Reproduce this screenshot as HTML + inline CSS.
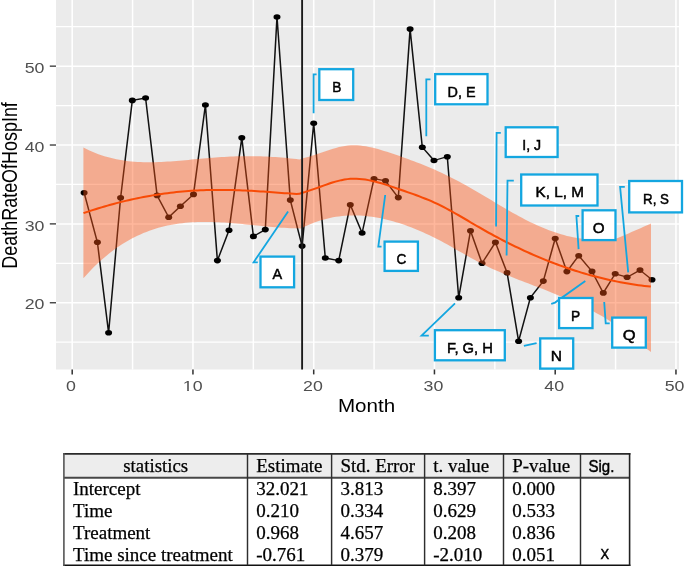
<!DOCTYPE html><html><head><meta charset="utf-8"><style>html,body{margin:0;padding:0;background:#fff;}svg{display:block;will-change:transform;}</style></head><body>
<svg width="685" height="566" viewBox="0 0 685 566">
<g transform="scale(1.17,1)">
<rect x="47.86" y="-1.0" width="532.48" height="370.5" fill="#EBEBEB"/>
<line x1="113.31" y1="-1.0" x2="113.31" y2="369.5" stroke="#fff" stroke-width="1.25"/>
<line x1="216.52" y1="-1.0" x2="216.52" y2="369.5" stroke="#fff" stroke-width="1.25"/>
<line x1="319.72" y1="-1.0" x2="319.72" y2="369.5" stroke="#fff" stroke-width="1.25"/>
<line x1="422.93" y1="-1.0" x2="422.93" y2="369.5" stroke="#fff" stroke-width="1.25"/>
<line x1="526.13" y1="-1.0" x2="526.13" y2="369.5" stroke="#fff" stroke-width="1.25"/>
<line x1="47.86" y1="342.19" x2="580.34" y2="342.19" stroke="#fff" stroke-width="1.3"/>
<line x1="47.86" y1="263.33" x2="580.34" y2="263.33" stroke="#fff" stroke-width="1.3"/>
<line x1="47.86" y1="184.46" x2="580.34" y2="184.46" stroke="#fff" stroke-width="1.3"/>
<line x1="47.86" y1="105.59" x2="580.34" y2="105.59" stroke="#fff" stroke-width="1.3"/>
<line x1="47.86" y1="26.72" x2="580.34" y2="26.72" stroke="#fff" stroke-width="1.3"/>
<line x1="61.71" y1="-1.0" x2="61.71" y2="369.5" stroke="#fff" stroke-width="1.35"/>
<line x1="164.91" y1="-1.0" x2="164.91" y2="369.5" stroke="#fff" stroke-width="1.35"/>
<line x1="268.12" y1="-1.0" x2="268.12" y2="369.5" stroke="#fff" stroke-width="1.35"/>
<line x1="371.32" y1="-1.0" x2="371.32" y2="369.5" stroke="#fff" stroke-width="1.35"/>
<line x1="474.53" y1="-1.0" x2="474.53" y2="369.5" stroke="#fff" stroke-width="1.35"/>
<line x1="577.74" y1="-1.0" x2="577.74" y2="369.5" stroke="#fff" stroke-width="1.35"/>
<line x1="47.86" y1="302.76" x2="580.34" y2="302.76" stroke="#fff" stroke-width="1.5"/>
<line x1="47.86" y1="223.89" x2="580.34" y2="223.89" stroke="#fff" stroke-width="1.5"/>
<line x1="47.86" y1="145.02" x2="580.34" y2="145.02" stroke="#fff" stroke-width="1.5"/>
<line x1="47.86" y1="66.15" x2="580.34" y2="66.15" stroke="#fff" stroke-width="1.5"/>
<polyline points="71.88,192.70 83.25,242.30 92.82,332.80 103.08,197.70 113.08,100.40 124.44,98.00 134.27,195.40 144.19,217.20 154.19,206.30 165.38,194.40 175.56,105.00 185.81,260.60 195.73,230.30 206.67,137.80 216.58,236.40 226.75,229.60 236.75,17.00 248.12,200.10 258.21,246.10 268.12,123.20 278.03,258.00 289.49,260.60 299.40,204.70 309.49,233.00 319.66,178.70 329.49,180.80 340.43,197.60 350.51,29.10 360.94,147.20 370.94,160.50 382.31,156.70 392.05,297.70 402.14,230.80 411.97,263.30 423.42,242.40 433.42,272.80 443.25,341.20 453.33,297.70 464.36,281.10 474.53,238.50 484.53,271.60 494.62,255.70 505.98,271.40 515.64,292.90 525.81,273.80 535.98,277.20 547.01,270.10 557.26,279.70" fill="none" stroke="#111" stroke-width="1.3" stroke-linejoin="round"/>
<ellipse cx="71.88" cy="192.70" rx="2.99" ry="2.8" fill="#000"/>
<ellipse cx="83.25" cy="242.30" rx="2.99" ry="2.8" fill="#000"/>
<ellipse cx="92.82" cy="332.80" rx="2.99" ry="2.8" fill="#000"/>
<ellipse cx="103.08" cy="197.70" rx="2.99" ry="2.8" fill="#000"/>
<ellipse cx="113.08" cy="100.40" rx="2.99" ry="2.8" fill="#000"/>
<ellipse cx="124.44" cy="98.00" rx="2.99" ry="2.8" fill="#000"/>
<ellipse cx="134.27" cy="195.40" rx="2.99" ry="2.8" fill="#000"/>
<ellipse cx="144.19" cy="217.20" rx="2.99" ry="2.8" fill="#000"/>
<ellipse cx="154.19" cy="206.30" rx="2.99" ry="2.8" fill="#000"/>
<ellipse cx="165.38" cy="194.40" rx="2.99" ry="2.8" fill="#000"/>
<ellipse cx="175.56" cy="105.00" rx="2.99" ry="2.8" fill="#000"/>
<ellipse cx="185.81" cy="260.60" rx="2.99" ry="2.8" fill="#000"/>
<ellipse cx="195.73" cy="230.30" rx="2.99" ry="2.8" fill="#000"/>
<ellipse cx="206.67" cy="137.80" rx="2.99" ry="2.8" fill="#000"/>
<ellipse cx="216.58" cy="236.40" rx="2.99" ry="2.8" fill="#000"/>
<ellipse cx="226.75" cy="229.60" rx="2.99" ry="2.8" fill="#000"/>
<ellipse cx="236.75" cy="17.00" rx="2.99" ry="2.8" fill="#000"/>
<ellipse cx="248.12" cy="200.10" rx="2.99" ry="2.8" fill="#000"/>
<ellipse cx="258.21" cy="246.10" rx="2.99" ry="2.8" fill="#000"/>
<ellipse cx="268.12" cy="123.20" rx="2.99" ry="2.8" fill="#000"/>
<ellipse cx="278.03" cy="258.00" rx="2.99" ry="2.8" fill="#000"/>
<ellipse cx="289.49" cy="260.60" rx="2.99" ry="2.8" fill="#000"/>
<ellipse cx="299.40" cy="204.70" rx="2.99" ry="2.8" fill="#000"/>
<ellipse cx="309.49" cy="233.00" rx="2.99" ry="2.8" fill="#000"/>
<ellipse cx="319.66" cy="178.70" rx="2.99" ry="2.8" fill="#000"/>
<ellipse cx="329.49" cy="180.80" rx="2.99" ry="2.8" fill="#000"/>
<ellipse cx="340.43" cy="197.60" rx="2.99" ry="2.8" fill="#000"/>
<ellipse cx="350.51" cy="29.10" rx="2.99" ry="2.8" fill="#000"/>
<ellipse cx="360.94" cy="147.20" rx="2.99" ry="2.8" fill="#000"/>
<ellipse cx="370.94" cy="160.50" rx="2.99" ry="2.8" fill="#000"/>
<ellipse cx="382.31" cy="156.70" rx="2.99" ry="2.8" fill="#000"/>
<ellipse cx="392.05" cy="297.70" rx="2.99" ry="2.8" fill="#000"/>
<ellipse cx="402.14" cy="230.80" rx="2.99" ry="2.8" fill="#000"/>
<ellipse cx="411.97" cy="263.30" rx="2.99" ry="2.8" fill="#000"/>
<ellipse cx="423.42" cy="242.40" rx="2.99" ry="2.8" fill="#000"/>
<ellipse cx="433.42" cy="272.80" rx="2.99" ry="2.8" fill="#000"/>
<ellipse cx="443.25" cy="341.20" rx="2.99" ry="2.8" fill="#000"/>
<ellipse cx="453.33" cy="297.70" rx="2.99" ry="2.8" fill="#000"/>
<ellipse cx="464.36" cy="281.10" rx="2.99" ry="2.8" fill="#000"/>
<ellipse cx="474.53" cy="238.50" rx="2.99" ry="2.8" fill="#000"/>
<ellipse cx="484.53" cy="271.60" rx="2.99" ry="2.8" fill="#000"/>
<ellipse cx="494.62" cy="255.70" rx="2.99" ry="2.8" fill="#000"/>
<ellipse cx="505.98" cy="271.40" rx="2.99" ry="2.8" fill="#000"/>
<ellipse cx="515.64" cy="292.90" rx="2.99" ry="2.8" fill="#000"/>
<ellipse cx="525.81" cy="273.80" rx="2.99" ry="2.8" fill="#000"/>
<ellipse cx="535.98" cy="277.20" rx="2.99" ry="2.8" fill="#000"/>
<ellipse cx="547.01" cy="270.10" rx="2.99" ry="2.8" fill="#000"/>
<ellipse cx="557.26" cy="279.70" rx="2.99" ry="2.8" fill="#000"/>
<path d="M71.28,147.45 L73.85,148.99 L76.41,150.43 L78.97,151.76 L81.54,153.00 L84.10,154.15 L86.67,155.21 L89.23,156.18 L91.79,157.07 L94.36,157.87 L96.92,158.60 L99.49,159.25 L102.05,159.83 L104.62,160.34 L107.18,160.78 L109.74,161.16 L112.31,161.47 L114.87,161.73 L117.44,161.94 L120.00,162.09 L122.56,162.19 L125.13,162.25 L127.69,162.27 L130.26,162.24 L132.82,162.18 L135.38,162.08 L137.95,161.96 L140.51,161.80 L143.08,161.62 L145.64,161.42 L148.21,161.19 L150.77,160.96 L153.33,160.70 L155.90,160.44 L158.46,160.17 L161.03,159.90 L163.59,159.62 L166.15,159.35 L168.72,159.07 L171.28,158.80 L173.85,158.53 L176.41,158.27 L178.97,158.02 L181.54,157.78 L184.10,157.55 L186.67,157.33 L189.23,157.12 L191.79,156.93 L194.36,156.75 L196.92,156.60 L199.49,156.46 L202.05,156.35 L204.62,156.26 L207.18,156.19 L209.74,156.15 L212.31,156.14 L214.87,156.15 L217.44,156.18 L220.00,156.24 L222.56,156.32 L225.13,156.42 L227.69,156.55 L230.26,156.70 L232.82,156.88 L235.38,157.08 L237.95,157.30 L240.51,157.55 L243.08,157.81 L245.64,158.10 L248.21,158.41 L250.77,158.75 L253.33,159.10 L255.90,159.48 L256.41,159.27 L258.97,158.33 L261.54,157.57 L264.10,156.72 L266.67,155.80 L269.23,154.81 L271.79,153.79 L274.36,152.75 L276.92,151.71 L279.49,150.68 L282.05,149.69 L284.62,148.76 L287.18,147.89 L289.74,147.12 L292.31,146.46 L294.87,145.93 L297.44,145.54 L300.00,145.32 L302.56,145.25 L305.13,145.33 L307.69,145.55 L310.26,145.89 L312.82,146.35 L315.38,146.91 L317.95,147.56 L320.51,148.30 L323.08,149.10 L325.64,149.97 L328.21,150.88 L330.77,151.84 L333.33,152.82 L335.90,153.82 L338.46,154.83 L341.03,155.86 L343.59,156.91 L346.15,157.97 L348.72,159.06 L351.28,160.16 L353.85,161.29 L356.41,162.44 L358.97,163.61 L361.54,164.80 L364.10,166.03 L366.67,167.28 L369.23,168.56 L371.79,169.86 L374.36,171.20 L376.92,172.57 L379.49,173.97 L382.05,175.41 L384.62,176.88 L387.18,178.39 L389.74,179.93 L392.31,181.51 L394.87,183.13 L397.44,184.78 L400.00,186.46 L402.56,188.17 L405.13,189.91 L407.69,191.66 L410.26,193.43 L412.82,195.21 L415.38,197.00 L417.95,198.79 L420.51,200.59 L423.08,202.38 L425.64,204.17 L428.21,205.95 L430.77,207.71 L433.33,209.46 L435.90,211.19 L438.46,212.90 L441.03,214.58 L443.59,216.23 L446.15,217.84 L448.72,219.41 L451.28,220.95 L453.85,222.43 L456.41,223.87 L458.97,225.26 L461.54,226.59 L464.10,227.86 L466.67,229.08 L469.23,230.24 L471.79,231.33 L474.36,232.37 L476.92,233.34 L479.49,234.25 L482.05,235.10 L484.62,235.88 L487.18,236.59 L489.74,237.23 L492.31,237.81 L494.87,238.32 L497.44,238.75 L500.00,239.11 L502.56,239.40 L505.13,239.62 L507.69,239.76 L510.26,239.82 L512.82,239.81 L515.38,239.71 L517.95,239.54 L520.51,239.28 L523.08,238.95 L525.64,238.53 L526.92,238.46 L529.49,237.33 L532.05,236.02 L534.62,234.70 L537.18,233.39 L539.74,232.08 L542.31,230.77 L544.87,229.46 L547.44,228.15 L550.00,226.84 L552.56,225.53 L555.13,224.22 L556.41,223.56 L556.41,351.96 L553.85,349.86 L551.28,347.67 L548.72,345.42 L546.15,343.12 L543.59,340.78 L541.03,338.42 L538.46,336.05 L535.90,333.69 L533.33,331.35 L530.77,329.04 L528.21,326.77 L525.64,324.57 L523.08,322.45 L520.51,320.42 L517.95,318.49 L515.38,316.68 L512.82,314.98 L510.26,313.38 L507.69,311.84 L505.13,310.32 L502.56,308.83 L500.00,307.36 L497.44,305.91 L494.87,304.48 L492.31,303.07 L489.74,301.69 L487.18,300.33 L484.62,299.00 L482.05,297.68 L479.49,296.39 L476.92,295.13 L474.36,293.88 L471.79,292.66 L469.23,291.46 L466.67,290.28 L464.10,289.11 L461.54,287.95 L458.97,286.80 L456.41,285.66 L453.85,284.52 L451.28,283.37 L448.72,282.23 L446.15,281.08 L443.59,279.92 L441.03,278.75 L438.46,277.56 L435.90,276.36 L433.33,275.14 L430.77,273.89 L428.21,272.62 L425.64,271.32 L423.08,269.99 L420.51,268.63 L417.95,267.23 L415.38,265.79 L412.82,264.30 L410.26,262.78 L407.69,261.20 L405.13,259.59 L402.56,257.94 L400.00,256.26 L397.44,254.56 L394.87,252.85 L392.31,251.14 L389.74,249.42 L387.18,247.71 L384.62,246.02 L382.05,244.34 L379.49,242.70 L376.92,241.09 L374.36,239.51 L371.79,237.98 L369.23,236.49 L366.67,235.04 L364.10,233.64 L361.54,232.28 L358.97,230.96 L356.41,229.69 L353.85,228.46 L351.28,227.29 L348.72,226.16 L346.15,225.08 L343.59,224.05 L341.03,223.08 L338.46,222.15 L335.90,221.28 L333.33,220.47 L330.77,219.70 L328.21,219.00 L325.64,218.36 L323.08,217.77 L320.51,217.25 L317.95,216.79 L315.38,216.39 L312.82,216.07 L310.26,215.81 L307.69,215.62 L305.13,215.50 L302.56,215.46 L300.00,215.49 L297.44,215.60 L294.87,215.78 L292.31,216.05 L289.74,216.39 L287.18,216.82 L284.62,217.34 L282.05,217.94 L279.49,218.63 L276.92,219.41 L274.36,220.28 L271.79,221.24 L269.23,222.30 L266.67,223.45 L264.10,224.70 L261.54,226.05 L258.97,227.50 L256.41,228.71 L255.90,228.36 L253.33,228.32 L250.77,228.24 L248.21,228.14 L245.64,228.00 L243.08,227.84 L240.51,227.65 L237.95,227.45 L235.38,227.22 L232.82,226.98 L230.26,226.72 L227.69,226.44 L225.13,226.16 L222.56,225.87 L220.00,225.58 L217.44,225.28 L214.87,224.98 L212.31,224.68 L209.74,224.38 L207.18,224.09 L204.62,223.81 L202.05,223.54 L199.49,223.29 L196.92,223.04 L194.36,222.82 L191.79,222.62 L189.23,222.43 L186.67,222.28 L184.10,222.15 L181.54,222.04 L178.97,221.97 L176.41,221.94 L173.85,221.94 L171.28,221.98 L168.72,222.06 L166.15,222.18 L163.59,222.35 L161.03,222.56 L158.46,222.83 L155.90,223.15 L153.33,223.52 L150.77,223.95 L148.21,224.44 L145.64,224.99 L143.08,225.60 L140.51,226.29 L137.95,227.04 L135.38,227.86 L132.82,228.75 L130.26,229.72 L127.69,230.77 L125.13,231.90 L122.56,233.11 L120.00,234.41 L117.44,235.79 L114.87,237.26 L112.31,238.83 L109.74,240.49 L107.18,242.24 L104.62,244.10 L102.05,246.05 L99.49,248.11 L96.92,250.28 L94.36,252.55 L91.79,254.93 L89.23,257.43 L86.67,260.04 L84.10,262.77 L81.54,265.62 L78.97,268.59 L76.41,271.68 L73.85,274.91 L71.28,278.26 Z" fill="#FF5313" fill-opacity="0.42"/>
<path d="M71.37,213.18 L73.93,212.15 L76.50,211.15 L79.06,210.17 L81.62,209.21 L84.19,208.28 L86.75,207.37 L89.32,206.48 L91.88,205.61 L94.44,204.77 L97.01,203.95 L99.57,203.15 L102.14,202.38 L104.70,201.63 L107.26,200.90 L109.83,200.19 L112.39,199.51 L114.96,198.85 L117.52,198.22 L120.09,197.61 L122.65,197.02 L125.21,196.45 L127.78,195.91 L130.34,195.39 L132.91,194.90 L135.47,194.43 L138.03,193.98 L140.60,193.55 L143.16,193.15 L145.73,192.77 L148.29,192.42 L150.85,192.09 L153.42,191.78 L155.98,191.50 L158.55,191.24 L161.11,191.01 L163.68,190.80 L166.24,190.61 L168.80,190.44 L171.37,190.30 L173.93,190.18 L176.50,190.08 L179.06,190.00 L181.62,189.95 L184.19,189.91 L186.75,189.89 L189.32,189.89 L191.88,189.91 L194.44,189.95 L197.01,190.00 L199.57,190.08 L202.14,190.17 L204.70,190.27 L207.26,190.39 L209.83,190.53 L212.39,190.68 L214.96,190.84 L217.52,191.01 L220.09,191.20 L222.65,191.39 L225.21,191.59 L227.78,191.80 L230.34,192.02 L232.91,192.24 L235.47,192.46 L238.03,192.69 L240.60,192.92 L243.16,193.14 L245.73,193.37 L248.29,193.60 L250.85,193.83 L253.42,194.05 L255.90,193.86 L258.46,192.71 L261.03,191.86 L263.59,190.93 L266.15,189.93 L268.72,188.88 L271.28,187.80 L273.85,186.71 L276.41,185.62 L278.97,184.56 L281.54,183.53 L284.10,182.56 L286.67,181.66 L289.23,180.85 L291.79,180.15 L294.36,179.57 L296.92,179.13 L299.49,178.85 L302.05,178.73 L304.62,178.75 L307.18,178.91 L309.74,179.19 L312.31,179.60 L314.87,180.11 L317.44,180.72 L320.00,181.41 L322.56,182.18 L325.13,183.03 L327.69,183.93 L330.26,184.87 L332.82,185.86 L335.38,186.88 L337.95,187.91 L340.51,188.95 L343.08,190.00 L345.64,191.04 L348.21,192.08 L350.77,193.13 L353.33,194.19 L355.90,195.28 L358.46,196.39 L361.03,197.54 L363.59,198.72 L366.15,199.95 L368.72,201.22 L371.28,202.56 L373.85,203.95 L376.41,205.41 L378.97,206.93 L381.54,208.50 L384.10,210.12 L386.67,211.77 L389.23,213.46 L391.79,215.18 L394.36,216.92 L396.92,218.67 L399.49,220.43 L402.05,222.20 L404.62,223.96 L407.18,225.72 L409.74,227.45 L412.31,229.17 L414.87,230.87 L417.44,232.54 L420.00,234.19 L422.56,235.81 L425.13,237.42 L427.69,238.99 L430.26,240.55 L432.82,242.08 L435.38,243.59 L437.95,245.08 L440.51,246.54 L443.08,247.98 L445.64,249.40 L448.21,250.79 L450.77,252.15 L453.33,253.50 L455.90,254.82 L458.46,256.11 L461.03,257.38 L463.59,258.63 L466.15,259.85 L468.72,261.05 L471.28,262.22 L473.85,263.37 L476.41,264.49 L478.97,265.59 L481.54,266.66 L484.10,267.71 L486.67,268.73 L489.23,269.73 L491.79,270.70 L494.36,271.65 L496.92,272.57 L499.49,273.47 L502.05,274.34 L504.62,275.19 L507.18,276.01 L509.74,276.80 L512.31,277.57 L514.87,278.31 L517.44,279.02 L520.00,279.71 L522.56,280.37 L525.13,281.01 L527.69,281.62 L530.26,282.20 L532.82,282.76 L535.38,283.29 L537.95,283.79 L540.51,284.27 L543.08,284.72 L545.64,285.14 L548.21,285.54 L550.77,285.90 L553.33,286.24 L555.90,286.56 L556.24,286.60" fill="none" stroke="#F84B06" stroke-width="2.0" stroke-linejoin="round"/>
<line x1="258.21" y1="-1.0" x2="258.21" y2="369.5" stroke="#1A1A1A" stroke-width="1.6"/>
<line x1="42.56" y1="302.76" x2="47.86" y2="302.76" stroke="#333" stroke-width="1.3"/>
<line x1="42.56" y1="223.89" x2="47.86" y2="223.89" stroke="#333" stroke-width="1.3"/>
<line x1="42.56" y1="145.02" x2="47.86" y2="145.02" stroke="#333" stroke-width="1.3"/>
<line x1="42.56" y1="66.15" x2="47.86" y2="66.15" stroke="#333" stroke-width="1.3"/>
<line x1="61.71" y1="369.5" x2="61.71" y2="374.40" stroke="#333" stroke-width="1.3"/>
<line x1="164.91" y1="369.5" x2="164.91" y2="374.40" stroke="#333" stroke-width="1.3"/>
<line x1="268.12" y1="369.5" x2="268.12" y2="374.40" stroke="#333" stroke-width="1.3"/>
<line x1="371.32" y1="369.5" x2="371.32" y2="374.40" stroke="#333" stroke-width="1.3"/>
<line x1="474.53" y1="369.5" x2="474.53" y2="374.40" stroke="#333" stroke-width="1.3"/>
<line x1="577.74" y1="369.5" x2="577.74" y2="374.40" stroke="#333" stroke-width="1.3"/>
<text x="37.95" y="309.46" font-family="Liberation Sans" font-size="15.2" fill="#505050" text-anchor="end">20</text>
<text x="37.95" y="230.59" font-family="Liberation Sans" font-size="15.2" fill="#505050" text-anchor="end">30</text>
<text x="37.95" y="151.72" font-family="Liberation Sans" font-size="15.2" fill="#505050" text-anchor="end">40</text>
<text x="37.95" y="72.85" font-family="Liberation Sans" font-size="15.2" fill="#505050" text-anchor="end">50</text>
<text x="60.60" y="391.4" font-family="Liberation Sans" font-size="15.2" fill="#505050" text-anchor="middle">0</text>
<text x="164.66" y="391.4" font-family="Liberation Sans" font-size="15.2" fill="#505050" text-anchor="middle">10</text>
<text x="267.44" y="391.4" font-family="Liberation Sans" font-size="15.2" fill="#505050" text-anchor="middle">20</text>
<text x="370.47" y="391.4" font-family="Liberation Sans" font-size="15.2" fill="#505050" text-anchor="middle">30</text>
<text x="473.68" y="391.4" font-family="Liberation Sans" font-size="15.2" fill="#505050" text-anchor="middle">40</text>
<text x="576.54" y="391.4" font-family="Liberation Sans" font-size="15.2" fill="#505050" text-anchor="middle">50</text>
<rect x="156.81" y="389.80" width="3.16" height="2.40" fill="#fff"/>
<rect x="161.41" y="389.80" width="3.04" height="2.40" fill="#fff"/>
<text x="313.25" y="411.6" font-family="Liberation Sans" font-size="17.6" fill="#000" text-anchor="middle">Month</text>
</g>
<g transform="translate(17.3,185.4) scale(1.24,1) rotate(-90)"><text x="0" y="0" font-family="Liberation Sans" font-size="17.95" fill="#000" text-anchor="middle">DeathRateOfHospInf</text></g>
<polyline points="316.60,74.30 313.60,74.30 313.60,113.20" fill="none" stroke="#13A6E0" stroke-width="1.8" stroke-linejoin="miter"/>
<rect x="319.30" y="69.20" width="33.90" height="30.80" fill="#fff" stroke="#13A6E0" stroke-width="2.3"/><text x="332.22" y="91.80" font-family="Liberation Sans" font-size="15.2" fill="#000" stroke="#000" stroke-width="0.5" textLength="9.15" lengthAdjust="spacingAndGlyphs">B</text>
<polyline points="430.50,79.40 426.30,79.40 426.30,136.20" fill="none" stroke="#13A6E0" stroke-width="1.8" stroke-linejoin="miter"/>
<rect x="435.20" y="74.10" width="52.30" height="30.20" fill="#fff" stroke="#13A6E0" stroke-width="2.3"/><text x="447.57" y="96.70" font-family="Liberation Sans" font-size="15.2" fill="#000" stroke="#000" stroke-width="0.5" textLength="28.00" lengthAdjust="spacingAndGlyphs">D, E</text>
<polyline points="500.80,132.80 496.60,132.80 496.10,226.60" fill="none" stroke="#13A6E0" stroke-width="1.8" stroke-linejoin="miter"/>
<rect x="505.70" y="127.30" width="51.90" height="29.70" fill="#fff" stroke="#13A6E0" stroke-width="2.3"/><text x="522.35" y="149.90" font-family="Liberation Sans" font-size="15.2" fill="#000" stroke="#000" stroke-width="0.5" textLength="18.85" lengthAdjust="spacingAndGlyphs">I, J</text>
<polyline points="513.80,180.60 507.50,180.60 506.60,255.40" fill="none" stroke="#13A6E0" stroke-width="1.8" stroke-linejoin="miter"/>
<rect x="521.20" y="174.50" width="76.30" height="31.00" fill="#fff" stroke="#13A6E0" stroke-width="2.3"/><text x="535.60" y="197.10" font-family="Liberation Sans" font-size="15.2" fill="#000" stroke="#000" stroke-width="0.5" textLength="48.41" lengthAdjust="spacingAndGlyphs">K, L, M</text>
<polyline points="624.80,186.80 620.10,186.80 628.20,272.40" fill="none" stroke="#13A6E0" stroke-width="1.8" stroke-linejoin="miter"/>
<rect x="629.20" y="181.00" width="52.80" height="31.40" fill="#fff" stroke="#13A6E0" stroke-width="2.3"/><text x="643.06" y="203.60" font-family="Liberation Sans" font-size="15.2" fill="#000" stroke="#000" stroke-width="0.5" textLength="25.90" lengthAdjust="spacingAndGlyphs">R, S</text>
<polyline points="579.20,216.00 576.40,216.00 578.60,249.10" fill="none" stroke="#13A6E0" stroke-width="1.8" stroke-linejoin="miter"/>
<rect x="582.60" y="210.30" width="32.90" height="29.80" fill="#fff" stroke="#13A6E0" stroke-width="2.3"/><text x="592.73" y="232.90" font-family="Liberation Sans" font-size="15.2" fill="#000" stroke="#000" stroke-width="0.5" textLength="11.84" lengthAdjust="spacingAndGlyphs">O</text>
<polyline points="385.20,195.00 378.30,246.60 381.50,246.60" fill="none" stroke="#13A6E0" stroke-width="1.8" stroke-linejoin="miter"/>
<rect x="384.60" y="241.60" width="33.30" height="29.30" fill="#fff" stroke="#13A6E0" stroke-width="2.3"/><text x="396.56" y="264.20" font-family="Liberation Sans" font-size="15.2" fill="#000" stroke="#000" stroke-width="0.5" textLength="9.81" lengthAdjust="spacingAndGlyphs">C</text>
<polyline points="288.10,211.60 253.60,262.30 257.80,262.30" fill="none" stroke="#13A6E0" stroke-width="1.8" stroke-linejoin="miter"/>
<rect x="260.50" y="256.60" width="33.60" height="30.70" fill="#fff" stroke="#13A6E0" stroke-width="2.3"/><text x="272.52" y="279.20" font-family="Liberation Sans" font-size="15.2" fill="#000" stroke="#000" stroke-width="0.5" textLength="9.66" lengthAdjust="spacingAndGlyphs">A</text>
<polyline points="455.00,303.40 421.60,335.60 428.80,335.60" fill="none" stroke="#13A6E0" stroke-width="1.8" stroke-linejoin="miter"/>
<rect x="434.90" y="330.20" width="69.90" height="30.10" fill="#fff" stroke="#13A6E0" stroke-width="2.3"/><text x="447.04" y="352.80" font-family="Liberation Sans" font-size="15.2" fill="#000" stroke="#000" stroke-width="0.5" textLength="45.91" lengthAdjust="spacingAndGlyphs">F, G, H</text>
<polyline points="523.90,345.90 536.60,343.10" fill="none" stroke="#13A6E0" stroke-width="1.8" stroke-linejoin="miter"/>
<rect x="540.20" y="338.40" width="33.00" height="30.20" fill="#fff" stroke="#13A6E0" stroke-width="2.3"/><text x="550.87" y="361.00" font-family="Liberation Sans" font-size="15.2" fill="#000" stroke="#000" stroke-width="0.5" textLength="11.24" lengthAdjust="spacingAndGlyphs">N</text>
<polyline points="585.30,280.90 555.00,302.60 551.20,303.90" fill="none" stroke="#13A6E0" stroke-width="1.8" stroke-linejoin="miter"/>
<rect x="559.10" y="298.00" width="33.40" height="30.10" fill="#fff" stroke="#13A6E0" stroke-width="2.3"/><text x="571.12" y="320.60" font-family="Liberation Sans" font-size="15.2" fill="#000" stroke="#000" stroke-width="0.5" textLength="9.15" lengthAdjust="spacingAndGlyphs">P</text>
<polyline points="604.20,302.00 605.70,323.40 609.70,323.40" fill="none" stroke="#13A6E0" stroke-width="1.8" stroke-linejoin="miter"/>
<rect x="612.20" y="317.60" width="33.60" height="30.00" fill="#fff" stroke="#13A6E0" stroke-width="2.3"/><text x="622.67" y="340.20" font-family="Liberation Sans" font-size="15.2" fill="#000" stroke="#000" stroke-width="0.5" textLength="12.87" lengthAdjust="spacingAndGlyphs">Q</text>
<rect x="64.0" y="453.6" width="565.6" height="24.099999999999966" fill="#EDEDED"/>
<line x1="63.2" y1="453.9" x2="630.4" y2="453.9" stroke="#2A2A2A" stroke-width="1.9"/>
<line x1="64.0" y1="477.8" x2="629.6" y2="477.8" stroke="#474747" stroke-width="2"/>
<line x1="63.2" y1="565.4" x2="630.4" y2="565.4" stroke="#111" stroke-width="1.7"/>
<line x1="63.9" y1="453" x2="63.9" y2="566" stroke="#555" stroke-width="1.6"/>
<line x1="629.6" y1="453" x2="629.6" y2="566" stroke="#222" stroke-width="1.6"/>
<line x1="247.5" y1="453.6" x2="247.5" y2="565.3" stroke="#2E2E2E" stroke-width="1.45"/>
<line x1="331.6" y1="453.6" x2="331.6" y2="565.3" stroke="#2E2E2E" stroke-width="1.45"/>
<line x1="424.6" y1="453.6" x2="424.6" y2="565.3" stroke="#2E2E2E" stroke-width="1.45"/>
<line x1="503.5" y1="453.6" x2="503.5" y2="565.3" stroke="#2E2E2E" stroke-width="1.45"/>
<line x1="580.5" y1="453.6" x2="580.5" y2="565.3" stroke="#2E2E2E" stroke-width="1.45"/>
<text x="155.7" y="471.5" font-family="Liberation Serif" font-size="19" fill="#000" stroke="#000" stroke-width="0.25" text-anchor="middle" textLength="64.8" lengthAdjust="spacingAndGlyphs">statistics</text>
<text x="256.3" y="471.5" font-family="Liberation Serif" font-size="19" fill="#000" stroke="#000" stroke-width="0.25" text-anchor="start" textLength="66.2" lengthAdjust="spacingAndGlyphs">Estimate</text>
<text x="340.4" y="471.5" font-family="Liberation Serif" font-size="19" fill="#000" stroke="#000" stroke-width="0.25" text-anchor="start" textLength="74.7" lengthAdjust="spacingAndGlyphs">Std. Error</text>
<text x="433.3" y="471.5" font-family="Liberation Serif" font-size="19" fill="#000" stroke="#000" stroke-width="0.25" text-anchor="start">t. value</text>
<text x="512.3" y="471.5" font-family="Liberation Serif" font-size="19" fill="#000" stroke="#000" stroke-width="0.25" text-anchor="start" textLength="57.8" lengthAdjust="spacingAndGlyphs">P-value</text>
<text x="588.5" y="472.1" font-family="Liberation Sans" font-size="16.5" fill="#000" stroke="#000" stroke-width="0.45" textLength="25.9" lengthAdjust="spacingAndGlyphs">Sig.</text>
<text x="73.0" y="494.9" font-family="Liberation Serif" font-size="19" fill="#000" stroke="#000" stroke-width="0.25" text-anchor="start">Intercept</text>
<text x="256.3" y="494.9" font-family="Liberation Serif" font-size="19" fill="#000" stroke="#000" stroke-width="0.25" text-anchor="start">32.021</text>
<text x="340.4" y="494.9" font-family="Liberation Serif" font-size="19" fill="#000" stroke="#000" stroke-width="0.25" text-anchor="start">3.813</text>
<text x="433.3" y="494.9" font-family="Liberation Serif" font-size="19" fill="#000" stroke="#000" stroke-width="0.25" text-anchor="start">8.397</text>
<text x="512.3" y="494.9" font-family="Liberation Serif" font-size="19" fill="#000" stroke="#000" stroke-width="0.25" text-anchor="start">0.000</text>
<text x="73.0" y="516.7" font-family="Liberation Serif" font-size="19" fill="#000" stroke="#000" stroke-width="0.25" text-anchor="start">Time</text>
<text x="256.3" y="516.7" font-family="Liberation Serif" font-size="19" fill="#000" stroke="#000" stroke-width="0.25" text-anchor="start">0.210</text>
<text x="340.4" y="516.7" font-family="Liberation Serif" font-size="19" fill="#000" stroke="#000" stroke-width="0.25" text-anchor="start">0.334</text>
<text x="433.3" y="516.7" font-family="Liberation Serif" font-size="19" fill="#000" stroke="#000" stroke-width="0.25" text-anchor="start">0.629</text>
<text x="512.3" y="516.7" font-family="Liberation Serif" font-size="19" fill="#000" stroke="#000" stroke-width="0.25" text-anchor="start">0.533</text>
<text x="73.0" y="538.5" font-family="Liberation Serif" font-size="19" fill="#000" stroke="#000" stroke-width="0.25" text-anchor="start">Treatment</text>
<text x="256.3" y="538.5" font-family="Liberation Serif" font-size="19" fill="#000" stroke="#000" stroke-width="0.25" text-anchor="start">0.968</text>
<text x="340.4" y="538.5" font-family="Liberation Serif" font-size="19" fill="#000" stroke="#000" stroke-width="0.25" text-anchor="start">4.657</text>
<text x="433.3" y="538.5" font-family="Liberation Serif" font-size="19" fill="#000" stroke="#000" stroke-width="0.25" text-anchor="start">0.208</text>
<text x="512.3" y="538.5" font-family="Liberation Serif" font-size="19" fill="#000" stroke="#000" stroke-width="0.25" text-anchor="start">0.836</text>
<text x="73.0" y="560.5" font-family="Liberation Serif" font-size="19" fill="#000" stroke="#000" stroke-width="0.25" text-anchor="start">Time since treatment</text>
<text x="256.3" y="560.5" font-family="Liberation Serif" font-size="19" fill="#000" stroke="#000" stroke-width="0.25" text-anchor="start">-0.761</text>
<text x="340.4" y="560.5" font-family="Liberation Serif" font-size="19" fill="#000" stroke="#000" stroke-width="0.25" text-anchor="start">0.379</text>
<text x="433.3" y="560.5" font-family="Liberation Serif" font-size="19" fill="#000" stroke="#000" stroke-width="0.25" text-anchor="start">-2.010</text>
<text x="512.3" y="560.5" font-family="Liberation Serif" font-size="19" fill="#000" stroke="#000" stroke-width="0.25" text-anchor="start">0.051</text>
<text x="604.8" y="559.0" font-family="Liberation Sans" font-size="14.5" fill="#000" stroke="#000" stroke-width="0.45" text-anchor="middle" textLength="8.6" lengthAdjust="spacingAndGlyphs">X</text>
</svg></body></html>
